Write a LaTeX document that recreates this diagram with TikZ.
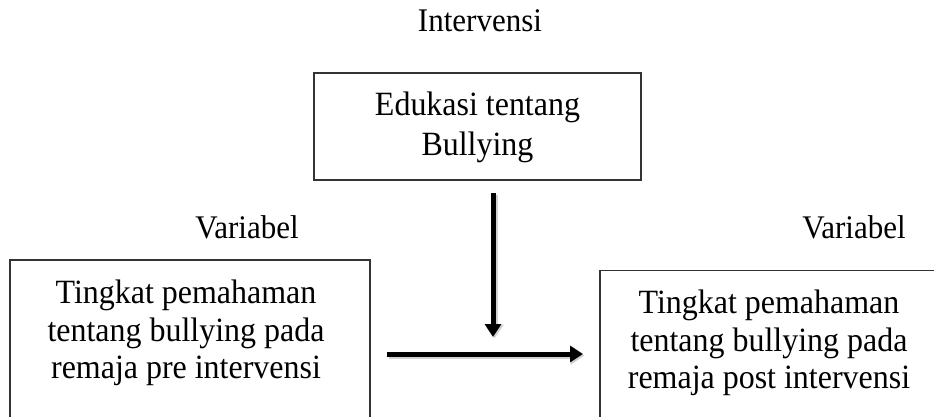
\documentclass[tikz,border=0pt]{standalone}
\usepackage{fontspec}
\setmainfont{Liberation Serif}[FakeStretch=0.94]
\usetikzlibrary{arrows.meta}
\begin{document}
\begin{tikzpicture}[x=1pt,y=-1pt,
  lbl/.style={font=\fontsize{33}{37}\selectfont, inner sep=0pt, align=center},
  boxtext/.style={font=\fontsize{34}{37.5}\selectfont, inner sep=0pt, align=center},
  boxframe/.style={draw=black!80, line width=1.1pt, inner sep=0pt},
  bigarrow/.style={line width=5pt, -{Triangle[width=16pt,length=13pt]}},
  arrowshade/.style={line width=6pt, draw=black!18, -{Triangle[width=18pt,length=14pt]}}]
\useasboundingbox (0,0) rectangle (934,417);
\clip (0,0) rectangle (934,417);
% frames
\node[boxframe, minimum width=327pt, minimum height=107pt] (topbox) at (477.5,126.5) {};
\node[boxframe, minimum width=360pt, minimum height=200pt] (leftbox) at (190,360) {};
\node[boxframe, minimum width=338pt, minimum height=200pt] (rightbox) at (769,370.5) {};
% labels
\node[lbl, anchor=base] (intv) at (480,32) {Intervensi};
\node[lbl, anchor=base] (varl) at (247,238) {Variabel};
\node[lbl, anchor=base] (varr) at (854,238) {Variabel};
% box texts
\node[boxtext, font=\fontsize{34}{40}\selectfont] (toptext) at (477.5,127) {Edukasi tentang\\Bullying};
\node[boxtext] (lefttext) at (186,333) {Tingkat pemahaman\\tentang bullying pada\\remaja pre intervensi};
\node[boxtext] (righttext) at (769,343) {Tingkat pemahaman\\tentang bullying pada\\remaja post intervensi};
% arrows
\coordinate (vstart) at (493,193);
\coordinate (vend) at (493,337);
\coordinate (hstart) at (387,354);
\coordinate (hend) at (583,354);
\coordinate (vstartS) at (494.5,194.5);
\coordinate (vendS) at (494.5,338.5);
\coordinate (hstartS) at (388.5,355.5);
\coordinate (hendS) at (584.5,355.5);
\draw[arrowshade] (vstartS) -- (vendS);
\draw[arrowshade] (hstartS) -- (hendS);
\draw[bigarrow] (vstart) -- (vend);
\draw[bigarrow] (hstart) -- (hend);
\end{tikzpicture}
\end{document}
